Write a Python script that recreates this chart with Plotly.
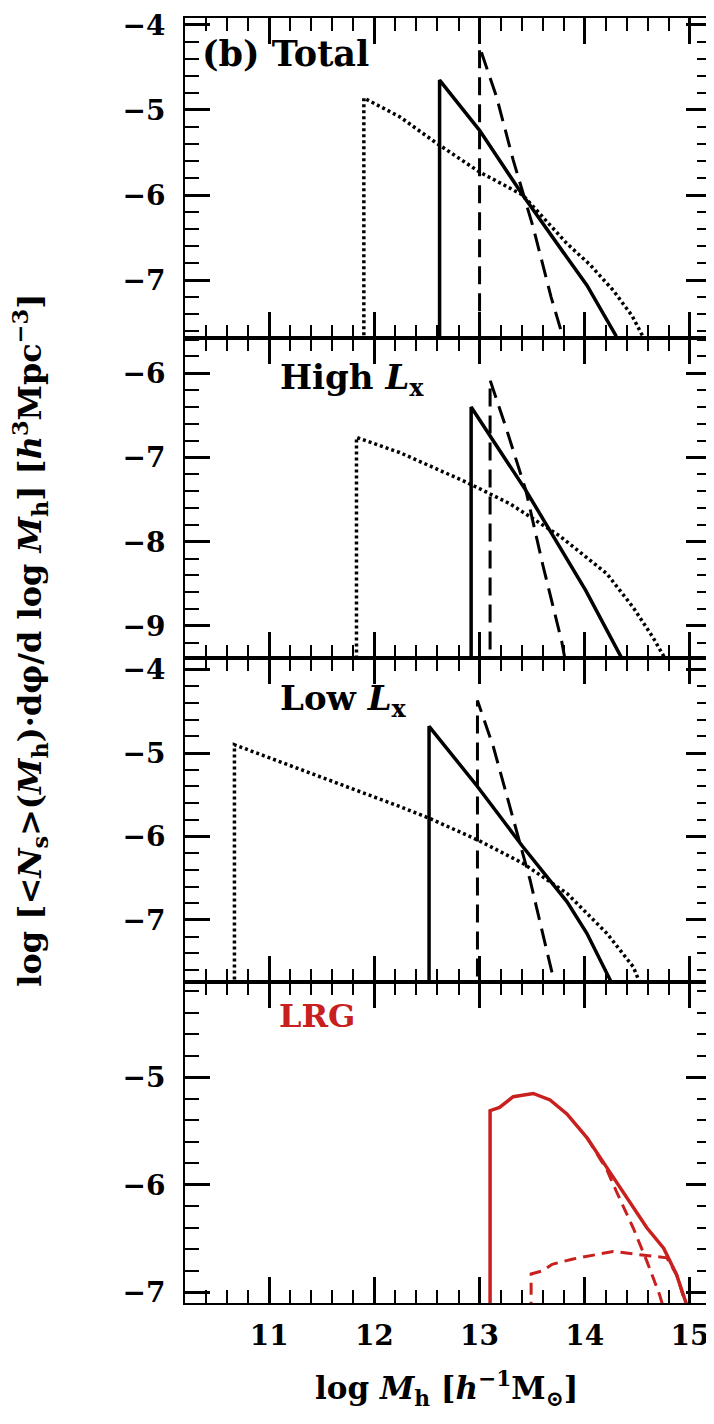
import plotly.graph_objects as go
from plotly.subplots import make_subplots

# ---------------- data ----------------
# Panel (b) Total
total_solid_x = [12.62, 12.62, 13.00, 13.41, 13.80, 14.02, 14.30]
total_solid_y = [-8.00, -4.65, -5.24, -6.00, -6.68, -7.06, -7.66]
total_dash_x = [13.00, 13.00, 13.16, 13.32, 13.51, 13.68, 13.80]
total_dash_y = [-8.00, -4.26, -4.84, -5.59, -6.38, -7.20, -7.70]
total_dot_x = [11.90, 11.90, 12.24, 12.59, 13.00, 13.41, 13.83, 14.05, 14.27, 14.45, 14.56]
total_dot_y = [-8.00, -4.86, -5.08, -5.39, -5.73, -6.00, -6.57, -6.82, -7.12, -7.42, -7.68]

# Panel High L_x
high_solid_x = [12.92, 12.92, 13.44, 14.01, 14.35]
high_solid_y = [-9.60, -6.40, -7.39, -8.58, -9.38]
high_dash_x = [13.10, 13.10, 13.25, 13.44, 13.60, 13.78, 13.81]
high_dash_y = [-9.60, -6.08, -6.64, -7.39, -8.27, -9.18, -9.38]
high_dot_x = [11.83, 11.83, 12.24, 12.87, 13.29, 13.76, 14.21, 14.46, 14.65, 14.76]
high_dot_y = [-9.60, -6.76, -6.94, -7.29, -7.55, -7.93, -8.38, -8.78, -9.14, -9.38]

# Panel Low L_x
low_solid_x = [12.52, 12.52, 12.98, 13.41, 13.83, 14.02, 14.25]
low_solid_y = [-8.00, -4.68, -5.40, -6.12, -6.78, -7.16, -7.74]
low_dash_x = [12.98, 12.98, 13.13, 13.29, 13.48, 13.63, 13.71]
low_dash_y = [-8.00, -4.37, -4.92, -5.64, -6.52, -7.32, -7.74]
low_dot_x = [10.67, 10.67, 12.24, 12.52, 12.98, 13.41, 13.83, 14.21, 14.46, 14.52]
low_dot_y = [-8.00, -4.90, -5.64, -5.78, -6.04, -6.32, -6.68, -7.16, -7.56, -7.74]

# Panel LRG
lrg_tot_x = [13.10, 13.10, 13.19, 13.32, 13.51, 13.67, 13.83, 14.02, 14.21,
             14.40, 14.59, 14.75, 14.87, 14.97]
lrg_tot_y = [-7.20, -5.31, -5.28, -5.18, -5.15, -5.21, -5.34, -5.56, -5.84,
             -6.12, -6.40, -6.59, -6.83, -7.12]
lrg_cen_x = [14.02, 14.21, 14.30, 14.46, 14.59, 14.71, 14.75]
lrg_cen_y = [-5.56, -5.86, -6.06, -6.40, -6.71, -7.02, -7.15]
lrg_sat_x = [13.49, 13.49, 13.60, 13.69, 13.89, 14.27, 14.52, 14.78, 14.88, 14.96]
lrg_sat_y = [-7.20, -6.83, -6.80, -6.74, -6.69, -6.62, -6.65, -6.68, -6.85, -7.12]

x_range = [10.2, 15.2]
y_ranges = [[-7.68, -3.92], [-9.38, -5.58], [-7.74, -3.86], [-7.10, -4.11]]
panel_labels = ["(b) Total", "High <i>L</i><sub>x</sub>", "Low <i>L</i><sub>x</sub>", "LRG"]

# ---------------- figure ----------------
FONT = "DejaVu Serif"
RED = "#c8201e"
fig = make_subplots(rows=4, cols=1, shared_xaxes=True, vertical_spacing=0)

def add(x, y, row, dash, color="black", width=3):
    fig.add_trace(go.Scatter(x=x, y=y, mode="lines",
                             line=dict(color=color, width=width, dash=dash),
                             showlegend=False, hoverinfo="skip"), row=row, col=1)

DOT = "3px,3px"
DASH = "18px,9px"
for r, (sx, sy, dx, dy, ox, oy) in enumerate([
        (total_solid_x, total_solid_y, total_dash_x, total_dash_y, total_dot_x, total_dot_y),
        (high_solid_x, high_solid_y, high_dash_x, high_dash_y, high_dot_x, high_dot_y),
        (low_solid_x, low_solid_y, low_dash_x, low_dash_y, low_dot_x, low_dot_y)], start=1):
    add(ox, oy, r, DOT, width=3.5)
    add(dx, dy, r, DASH, width=3)
    add(sx, sy, r, "solid", width=3.5)

add(lrg_tot_x, lrg_tot_y, 4, "solid", RED, 3.5)
add(lrg_cen_x, lrg_cen_y, 4, "12px,7px", RED, 3)
add(lrg_sat_x, lrg_sat_y, 4, "12px,7px", RED, 3)

domains = [[0.751, 1.0], [0.502, 0.751], [0.250, 0.502], [0.0, 0.250]]
for i in range(4):
    r = i + 1
    fig.update_yaxes(row=r, col=1, range=y_ranges[i], domain=domains[i],
                     dtick=1, tick0=0, ticks="inside", ticklen=25, tickwidth=2.5,
                     tickcolor="black", showline=True, linecolor="black", linewidth=2,
                     mirror="allticks", showgrid=False, zeroline=False,
                     ticklabelstandoff=12,
                     tickfont=dict(family=FONT, size=28, color="black", weight="bold"),
                     minor=dict(dtick=0.2, ticks="inside", ticklen=14, tickwidth=2,
                                tickcolor="black", showgrid=False))
    fig.update_xaxes(row=r, col=1, range=x_range, dtick=1, tick0=0,
                     ticks="inside", ticklen=26, tickwidth=2.5, tickcolor="black",
                     showline=True, linecolor="black", linewidth=2, mirror="allticks",
                     showgrid=False, zeroline=False, ticklabelstandoff=6,
                     tickfont=dict(family=FONT, size=28, color="black", weight="bold"),
                     minor=dict(dtick=0.2, ticks="inside", ticklen=13, tickwidth=2,
                                tickcolor="black", showgrid=False))

# panel labels
label_pos = [(0.028, 0.89), (0.176, 0.869), (0.176, 0.87), (0.174, 0.894)]
label_size = [35, 34, 34, 32]
for i, (txt, (ax, ay)) in enumerate(zip(panel_labels, label_pos)):
    sfx = "" if i == 0 else str(i + 1)
    fig.add_annotation(text=txt, x=ax, y=ay, xref=f"x{sfx} domain", yref=f"y{sfx} domain",
                       xanchor="left", yanchor="middle", showarrow=False,
                       font=dict(family=FONT, size=label_size[i], weight="bold",
                                 color=RED if i == 3 else "black"))

# axis titles
fig.add_annotation(
    text="log [&lt;<i>N</i><sub>s</sub>&gt;(<i>M</i><sub>h</sub>)·dφ/d log <i>M</i><sub>h</sub>] [<i>h</i><sup>3</sup>Mpc<sup>−3</sup>]",
    x=-0.295, y=0.516, xref="paper", yref="paper", textangle=-90,
    xanchor="center", yanchor="middle", showarrow=False,
    font=dict(family=FONT, size=32, weight="bold", color="black"))
fig.add_annotation(
    text="log <i>M</i><sub>h</sub> [<i>h</i><sup>−1</sup>M<sub>⊙</sub>]",
    x=0.498, y=-0.0665, xref="paper", yref="paper",
    xanchor="center", yanchor="middle", showarrow=False,
    font=dict(family=FONT, size=31, weight="bold", color="black"))

# the page body adds an 8px margin, so the figure is sized to fit the window
fig.update_layout(width=706, height=1408, margin=dict(l=177, r=1, t=10, b=113),
                  paper_bgcolor="white", plot_bgcolor="white",
                  font=dict(family=FONT, color="black"))

fig.write_html("out.html")
